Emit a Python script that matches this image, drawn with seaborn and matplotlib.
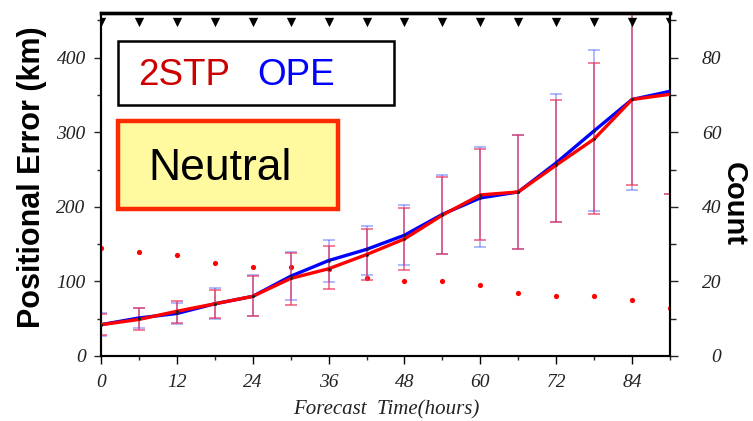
import matplotlib
matplotlib.use("Agg")
import matplotlib.pyplot as plt
from matplotlib.patches import Rectangle
from matplotlib.ticker import MultipleLocator
import seaborn as sns
import pandas as pd
import numpy as np

# forecast hours (every 6 h)
hours = [0, 6, 12, 18, 24, 30, 36, 42, 48, 54, 60, 66, 72, 78, 84, 90]

# mean positional error (km)
ope_err = [42, 51, 57, 70, 80, 107, 128, 143, 162, 190, 212, 220, 259, 302, 344, 355]
stp_err = [42, 49, 60, 70, 80, 104, 117, 136, 157, 189, 216, 220, 256, 291, 344, 351]

# error bar ranges (km)
stp_low = [28, 35, 44, 51, 53, 68, 90, 102, 116, 137, 155, 144, 180, 190, 230, 217]
stp_high = [56, 64, 74, 89, 107, 138, 148, 170, 198, 240, 278, 296, 343, 393, 458, 485]
ope_low = [27, 37, 43, 49, 53, 75, 99, 109, 122, 137, 146, 144, 180, 195, 222, 217]
ope_high = [57, 64, 71, 91, 108, 139, 155, 175, 202, 243, 280, 296, 352, 411, 466, 493]

# number of cases
count = [29, 28, 27, 25, 24, 24, 23.3, 21, 20, 20, 19, 17, 16, 16, 15, 13]

# black triangles along the top
tri_hours = hours
tri_level = 448

df = pd.DataFrame({"hour": hours * 2,
                   "error": ope_err + stp_err,
                   "model": ["OPE"] * len(hours) + ["2STP"] * len(hours)})

sns.set_style("ticks")
plt.rcParams['font.family'] = ['Liberation Sans', 'DejaVu Sans']
plt.rcParams['text.color'] = 'black'
plt.rcParams['axes.labelcolor'] = 'black'

fig = plt.figure(figsize=(7.53, 4.21), dpi=100)
ax = fig.add_axes([101 / 753, 1 - 356 / 421, 569 / 753, 343 / 421])
ax2 = ax.twinx()

# error bars
h = np.array(hours)
for mid, lo, hi, col in [(ope_err, ope_low, ope_high, (0.2, 0.3, 1.0, 0.5)),
                         (stp_err, stp_low, stp_high, (0.93, 0.2, 0.35, 0.8))]:
    mid = np.array(mid)
    ax.errorbar(h, mid, yerr=[mid - np.array(lo), np.array(hi) - mid], fmt='none',
                ecolor=col, elinewidth=1.1, capsize=4, capthick=1.1, zorder=2)

# lines
sns.lineplot(data=df, x="hour", y="error", hue="model",
             hue_order=["OPE", "2STP"],
             palette={"OPE": "#0000ff", "2STP": "#ff0000"},
             linewidth=2.4, legend=False, ax=ax, zorder=3)
sns.scatterplot(data=df, x="hour", y="error", color="#202020", s=4,
                linewidth=0, ax=ax, zorder=4, legend=False)

# top triangles
sns.scatterplot(x=tri_hours, y=[tri_level] * len(tri_hours), marker="v",
                color="black", s=45, linewidth=0, ax=ax, zorder=5)

# count dots
sns.scatterplot(x=hours, y=count, color="#ff0000", s=14, linewidth=0,
                ax=ax2, zorder=3)

ax.set_xlim(0, 90)
ax.set_ylim(0, 460)
ax2.set_ylim(0, 92)

ax.xaxis.set_major_locator(MultipleLocator(12))
ax.xaxis.set_minor_locator(MultipleLocator(6))
ax.yaxis.set_major_locator(MultipleLocator(100))
ax.yaxis.set_minor_locator(MultipleLocator(50))
ax2.yaxis.set_major_locator(MultipleLocator(20))
ax2.yaxis.set_minor_locator(MultipleLocator(10))

tick_font = dict(family="Liberation Serif", style="italic", size=14)
ax.set_xticks([0, 12, 24, 36, 48, 60, 72, 84])
ax.set_xticks(hours, minor=True)
ax.set_xticklabels(["0", "12", "24", "36", "48", "60", "72", "84"], fontdict=tick_font)
ax.set_yticks([0, 100, 200, 300, 400])
ax.set_yticklabels(["0", "100", "200", "300", "400"], fontdict=tick_font)
ax2.set_yticks([0, 20, 40, 60, 80])
ax2.set_yticklabels(["0", "20", "40", "60", "80"], fontdict=tick_font, ha="right")

ax.tick_params(axis="x", which="major", direction="out", length=6, width=1, pad=7, colors="black")
ax.tick_params(axis="x", which="minor", direction="out", length=3, width=1)
ax.tick_params(axis="y", which="major", direction="out", length=5, width=1, pad=6)
ax.tick_params(axis="y", which="minor", direction="out", length=3, width=1)
ax2.tick_params(axis="y", which="major", direction="out", length=6, width=1, pad=31)
ax2.tick_params(axis="y", which="minor", direction="out", length=4, width=1)
for t in ax.get_xticklabels() + ax.get_yticklabels() + ax2.get_yticklabels():
    t.set_color("#222222")

for a in (ax, ax2):
    for s in a.spines.values():
        s.set_color("black")
        s.set_linewidth(1.5)
    a.spines["top"].set_linewidth(2.4)

ax.set_xlabel("Forecast  Time(hours)", family="Liberation Serif", style="italic",
              fontsize=15, va="center", color="#222222")
ax.xaxis.set_label_coords(0.501, -0.157)
ax.set_ylabel("Positional Error (km)", fontsize=22, fontweight="bold", va="center",
              color="black")
ax.yaxis.set_label_coords(-0.121, 0.522)
ax2.set_ylabel("Count", fontsize=21, fontweight="bold", rotation=-90, va="center",
               color="black")
ax2.yaxis.set_label_coords(1.112, 0.443)

# legend box
ax.add_patch(Rectangle((0.03, 0.732), 0.485, 0.186, transform=ax.transAxes,
                       facecolor="white", edgecolor="black", linewidth=1.8,
                       zorder=6, clip_on=False))
ax.text(0.065, 0.819, "2STP", color="#cc0000", fontsize=26.5, va="center",
        transform=ax.transAxes, zorder=7)
ax.text(0.274, 0.819, "OPE", color="#0000ff", fontsize=26.5, va="center",
        transform=ax.transAxes, zorder=7)

# case label box
ax.add_patch(Rectangle((0.029, 0.43), 0.388, 0.254, transform=ax.transAxes,
                       facecolor="#fffaa0", edgecolor="#ff2a00", linewidth=3.2,
                       zorder=6, clip_on=False))
ax.text(0.0826, 0.548, "Neutral", color="black", fontsize=32, va="center",
        transform=ax.transAxes, zorder=7)

ax.set_zorder(ax2.get_zorder() + 1)
ax.patch.set_visible(False)

fig.savefig("out.png", dpi=100)
